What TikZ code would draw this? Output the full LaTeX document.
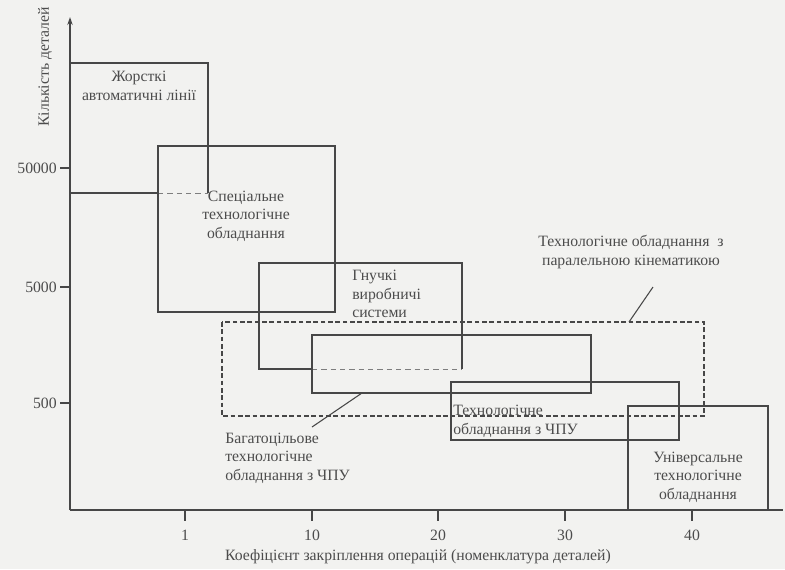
\documentclass[tikz,border=0pt]{standalone}
\usepackage{fontspec}
\setmainfont{Liberation Serif}
\usetikzlibrary{positioning,arrows.meta}
\definecolor{paper}{HTML}{F2F2F0}
\colorlet{ink}{black!72}
\colorlet{txt}{black!70}
\tikzset{
  >=Stealth,
  box/.style={line width=1pt,ink},
  box cut/.style={line width=0.6pt,ink!70,dash pattern=on 4pt off 3pt},
  box par/.style={line width=1.3pt,ink,dash pattern=on 3.5pt off 2pt},
  lbl/.style={text=txt,font=\fontsize{11.8}{14}\selectfont,inner sep=0},
  tick lbl/.style={text=txt,font=\fontsize{11.8}{13}\selectfont,inner sep=0},
  axis/.style={line width=1.4pt,ink},
  leader/.style={line width=0.8pt,ink}
}

\begin{document}
\begin{tikzpicture}[x=0.75pt,y=-0.75pt]
  \useasboundingbox[fill=paper] (0,0) rectangle (785,569);

  % Axes
  \coordinate (origin) at (70,510);
  \coordinate (ytop) at (70,17);
  \coordinate (xend) at (783,510);
  \draw[axis,-{Stealth[length=6pt,width=4pt]}] (origin) -- (ytop);
  \draw[axis] (origin) -- (xend);

  % Ticks
  \foreach \y/\v in {168/50000,287/5000,403/500} {
    \draw[axis,line width=1pt] (60,\y) -- (70,\y);
    \node[tick lbl,anchor=east] (ty\v) at (57,\y) {\v};
  }
  \foreach \x/\v in {185/1,312/10,438/20,565/30,692/40} {
    \draw[axis,line width=1pt] (\x,510) -- (\x,521);
    \node[tick lbl] (tx\v) at (\x,535) {\v};
  }

  % Axis titles
  \node[lbl] (xtitle) at (418,557) {Коефіцієнт закріплення операцій (номенклатура деталей)};
  \node[lbl,rotate=90] (ytitle) at (45,67) {Кількість деталей};

  % Boxes
  \draw[box] (70,193) -- (70,63) -- (208,63) -- (208,193);
  \draw[box] (70,193) -- (158,193);
  \draw[box cut] (158,193) -- (208,193);
  \draw[box] (158,146) rectangle (335,312);
  \draw[box] (312,369) -- (259,369) -- (259,263) -- (462,263) -- (462,369);
  \draw[box cut] (312,369) -- (462,369);
  \draw[box] (312,335) rectangle (591,393);
  \draw[box par] (222,322) rectangle (704,416);
  \draw[box] (451,382) rectangle (679,440);
  \draw[box] (628,510) -- (628,406) -- (768,406) -- (768,510);

  % Labels
  \node[lbl,align=center] (rigid) at (139,86) {Жорсткі\\автоматичні лінії};
  \node[lbl,align=center] (special) at (246,216) {Спеціальне\\технологічне\\обладнання};
  \node[lbl,align=left,anchor=west] (flex) at (352,294) {Гнучкі\\виробничі\\системи};
  \node[lbl,align=left,anchor=west] (multi) at (225,458) {Багатоцільове\\технологічне\\обладнання з ЧПУ};
  \node[lbl,align=left,anchor=west] (cnc) at (453,421) {Технологічне\\обладнання з ЧПУ};
  \node[lbl,align=center] (univ) at (698,477) {Універсальне\\технологічне\\обладнання};
  \node[lbl,align=center] (parallel) at (631,252) {Технологічне обладнання~~з\\паралельною кінематикою};

  % Leaders
  \coordinate (multi tip) at (362,393);
  \coordinate (multi end) at (312,427);
  \coordinate (par tip) at (629,322);
  \coordinate (par end) at (653,287);
  \draw[leader] (multi end) -- (multi tip);
  \draw[leader] (par end) -- (par tip);

\end{tikzpicture}
\end{document}
